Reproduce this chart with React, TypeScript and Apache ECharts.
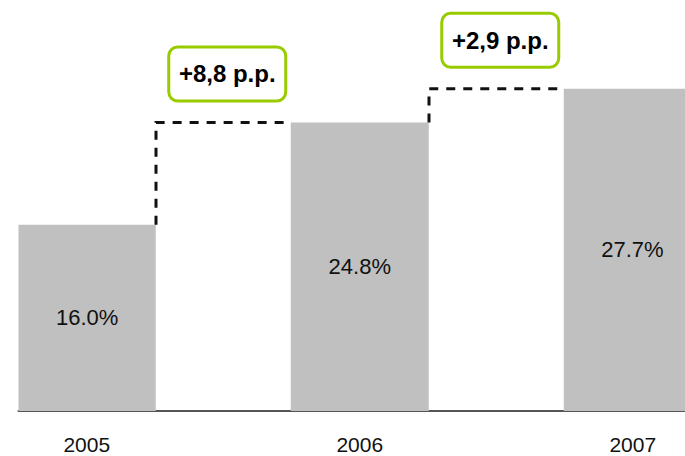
import React, { useEffect, useRef } from "react";
import * as echarts from "echarts";

// Categories on the x axis: year bars with gap slots between them
const categories = ["2005", "", "2006", "", "2007"];
// Share values for each year (%)
const years = ["2005", "2006", "2007"];
const shareValues = [16.0, 24.8, 27.7];
// Change annotations between consecutive years
const changeLabels = ["+8,8 p.p.", "+2,9 p.p."];

const SANS = "'Liberation Sans', Arial, sans-serif";

export default function App() {
  const ref = useRef<HTMLDivElement>(null);

  useEffect(() => {
    if (!ref.current) return;
    const chart = echarts.init(ref.current, null, { renderer: "svg" });

    const barData = categories.map((c) => {
      const i = years.indexOf(c);
      return i >= 0 && c !== "" ? shareValues[i] : "-";
    });

    // step connectors: [gap category index, previous value, next value]
    const stepData = changeLabels.map((_, k) => [
      categories.indexOf(years[k]) + 1,
      shareValues[k],
      shareValues[k + 1],
    ]);

    chart.setOption({
      animation: false,
      grid: { left: 18.5, top: 62, right: 0, height: 349, containLabel: false },
      xAxis: {
        type: "category",
        data: categories,
        boundaryGap: true,
        axisTick: { show: false },
        axisLine: { show: true, lineStyle: { color: "#555555", width: 2 } },
        axisLabel: {
          color: "#111111",
          fontSize: 21,
          fontFamily: SANS,
          margin: 23,
          interval: 0,
        },
        splitLine: { show: false },
      },
      yAxis: { type: "value", min: 0, max: 30, show: false, splitLine: { show: false } },
      series: [
        {
          type: "bar",
          data: barData,
          barWidth: 138,
          itemStyle: { color: "#c0c0c0" },
          label: {
            show: true,
            position: "inside",
            color: "#111111",
            fontSize: 22,
            fontFamily: SANS,
            textBorderWidth: 0,
            formatter: (p: any) => `${Number(p.value).toFixed(1)}%`,
          },
          z: 2,
        },
        {
          type: "custom",
          data: stepData,
          z: 3,
          renderItem: (params: any, api: any) => {
            const idx = api.value(0);
            const prev = api.value(1);
            const next = api.value(2);
            const bw = api.size([1, 0])[0];
            const pPrev = api.coord([idx, prev]);
            const pNext = api.coord([idx, next]);
            const x0 = pNext[0] - bw / 2 + 1;
            const x1 = pNext[0] + bw / 2;
            const cx = pNext[0] + 4;
            const boxW = 120;
            const boxH = 57;
            const boxBottom = pNext[1] - 20;
            return {
              type: "group",
              children: [
                {
                  type: "polyline",
                  shape: {
                    points: [
                      [x0, pPrev[1]],
                      [x0, pNext[1]],
                      [x1, pNext[1]],
                    ],
                  },
                  style: { stroke: "#111111", lineWidth: 3, lineDash: [9, 8], fill: "none" },
                },
                {
                  type: "rect",
                  shape: { x: cx - boxW / 2 + 1.5, y: boxBottom - boxH + 1.5, width: boxW - 3, height: boxH - 3, r: 9 },
                  style: { fill: "#ffffff", stroke: "#99cc00", lineWidth: 3 },
                },
                {
                  type: "text",
                  x: cx,
                  y: boxBottom - boxH / 2,
                  style: {
                    text: changeLabels[params.dataIndex],
                    fill: "#000000",
                    font: `bold 24px ${SANS}`,
                    align: "center",
                    verticalAlign: "middle",
                  },
                },
              ],
            };
          },
        },
      ],
    });

    return () => chart.dispose();
  }, []);

  return (
    <div style={{ position: "absolute", left: 0, top: 0, width: 685, height: 456, overflow: "hidden", background: "#ffffff" }}>
      <div ref={ref} style={{ width: 701, height: 456 }} />
    </div>
  );
}
